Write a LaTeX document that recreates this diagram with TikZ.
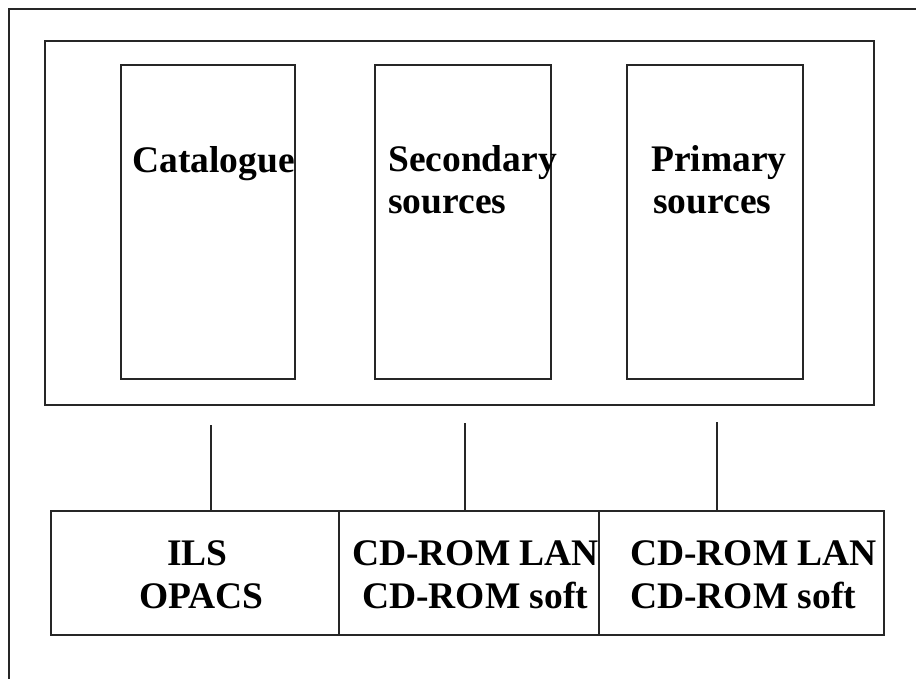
\documentclass[tikz,border=0pt]{standalone}
\usepackage{fontspec}
\setmainfont{Liberation Serif}
\begin{document}
\begin{tikzpicture}[x=1pt,y=-1pt,
  frame/.style={draw=black!85,line width=1.4pt,inner sep=0pt,outer sep=0pt,anchor=north west},
  lbl/.style={inner sep=0pt,anchor=base west,font=\fontsize{37.5}{41}\selectfont\bfseries},
  conn/.style={draw=black!85,line width=1.4pt}]
\useasboundingbox (0,0) rectangle (916,679);
% outer frame (only top and left visible)
\coordinate (ot) at (916,9);
\coordinate (oc) at (9,9);
\coordinate (ob) at (9,679);
\draw[conn] (ot) -- (oc) -- (ob);
% big box
\node[frame,minimum width=829pt,minimum height=364pt] (big) at (45,41) {};
% inner boxes
\node[frame,minimum width=174pt,minimum height=314pt] (cat) at (121,65) {};
\node[frame,minimum width=176pt,minimum height=314pt] (sec) at (375,65) {};
\node[frame,minimum width=176pt,minimum height=314pt] (pri) at (627,65) {};
\node[lbl] (tcat) at (132,173) {Catalogue};
\node[lbl] (tsec1) at (388,172) {Secondary};
\node[lbl] (tsec2) at (388,214) {sources};
\node[lbl] (tpri1) at (651,172) {Primary};
\node[lbl] (tpri2) at (653,214) {sources};
% bottom boxes
\node[frame,minimum width=288pt,minimum height=124pt] (b1) at (51,511) {};
\node[frame,minimum width=260pt,minimum height=124pt] (b2) at (339,511) {};
\node[frame,minimum width=285pt,minimum height=124pt] (b3) at (599,511) {};
\node[lbl] (tb1a) at (167,565) {ILS};
\node[lbl] (tb1b) at (139,608) {OPACS};
\node[lbl] (tb2a) at (352,565) {CD-ROM LAN};
\node[lbl] (tb2b) at (362,608) {CD-ROM soft};
\node[lbl] (tb3a) at (630,565) {CD-ROM LAN};
\node[lbl] (tb3b) at (630,608) {CD-ROM soft};
% connectors
\coordinate (c1) at (211,425);
\coordinate (c2) at (465,423);
\coordinate (c3) at (717,422);
\draw[conn] (c1) -- (c1 |- b1.north);
\draw[conn] (c2) -- (c2 |- b2.north);
\draw[conn] (c3) -- (c3 |- b3.north);
\end{tikzpicture}
\end{document}
